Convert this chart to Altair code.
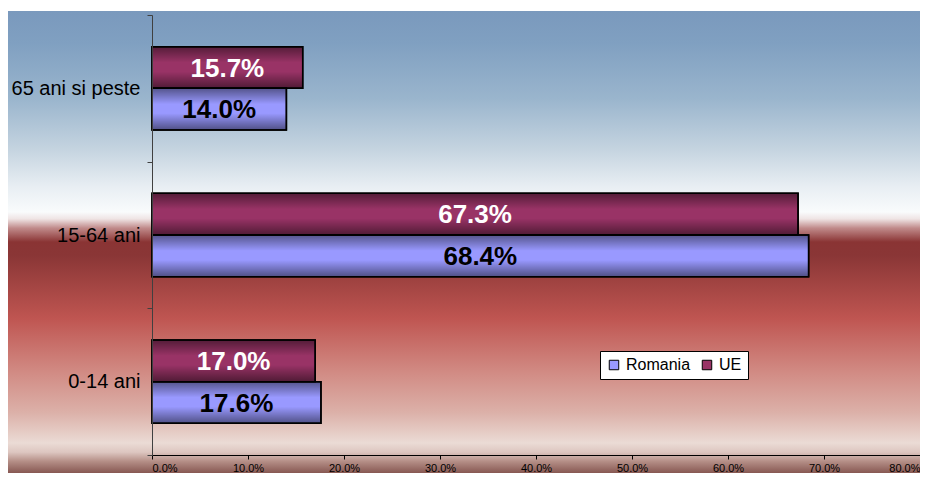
import altair as alt
import pandas as pd

categories = ["65 ani si peste", "15-64 ani", "0-14 ani"]
series = ["UE", "Romania"]
ue_values = [15.7, 67.3, 17.0]
ro_values = [14.0, 68.4, 17.6]
x_ticks = [0, 10, 20, 30, 40, 50, 60, 70, 80]

rows = []
for c, u, r in zip(categories, ue_values, ro_values):
    rows.append({"cat": c, "serie": "UE", "val": u})
    rows.append({"cat": c, "serie": "Romania", "val": r})
df = pd.DataFrame(rows)

FONT = "Liberation Sans"

bg_grad = alt.Gradient(
    gradient="linear", x1=0, y1=0, x2=0, y2=1,
    stops=[
        alt.GradientStop(offset=0.0, color="#7a99bd"),
        alt.GradientStop(offset=0.07, color="#80a0c1"),
        alt.GradientStop(offset=0.19, color="#9ab5cd"),
        alt.GradientStop(offset=0.30, color="#c5d4e0"),
        alt.GradientStop(offset=0.38, color="#e8eef3"),
        alt.GradientStop(offset=0.435, color="#f9fbfc"),
        alt.GradientStop(offset=0.45, color="#efe4e4"),
        alt.GradientStop(offset=0.47, color="#c08a8a"),
        alt.GradientStop(offset=0.50, color="#8a3434"),
        alt.GradientStop(offset=0.53, color="#8a3636"),
        alt.GradientStop(offset=0.665, color="#bf5551"),
        alt.GradientStop(offset=0.78, color="#d18a83"),
        alt.GradientStop(offset=0.87, color="#dcb1a9"),
        alt.GradientStop(offset=0.935, color="#ebdbd5"),
        alt.GradientStop(offset=0.955, color="#ddc6c0"),
        alt.GradientStop(offset=0.975, color="#b48e86"),
        alt.GradientStop(offset=1.0, color="#875852"),
    ],
)

background = alt.Chart(alt.Data(values=[{}])).mark_rect(fill=bg_grad, strokeWidth=0).encode(
    x=alt.value(-144), x2=alt.value(768), y=alt.value(-4), y2=alt.value(458)
)

y_enc = alt.Y(
    "cat:N", sort=categories, title=None,
    scale=alt.Scale(paddingInner=0, paddingOuter=0),
    axis=alt.Axis(
        tickBand="extent", labelFontSize=20, labelFont=FONT, labelColor="black",
        labelPadding=7, tickSize=5, tickColor="#404040", domainColor="#404040",
        labelLimit=200, zindex=2,
    ),
)
yoff_enc = alt.YOffset(
    "serie:N", sort=series, scale=alt.Scale(paddingInner=0, paddingOuter=0.76)
)
x_enc = alt.X(
    "val:Q", title=None,
    scale=alt.Scale(domain=[0, 80], nice=False, zero=True),
    axis=alt.Axis(
        values=x_ticks, labelExpr="format(datum.value, '.1f') + '%'",
        labelFontSize=11, labelFont=FONT, labelColor="black", tickSize=4,
        labelPadding=3, tickColor="black", domainColor="black", grid=False,
        zindex=2,
    ),
)

bars = alt.Chart(df).mark_bar(stroke="black", strokeWidth=1.5, opacity=1).encode(
    x=x_enc,
    y=y_enc,
    yOffset=yoff_enc,
    color=alt.Color(
        "serie:N",
        scale=alt.Scale(domain=["Romania", "UE"], range=["#9999ff", "#993366"]),
        legend=alt.Legend(
            title=None, orient="none", legendX=448, legendY=336, direction="horizontal",
            fillColor="white", strokeColor="black", padding=6,
            symbolType="square", symbolSize=90, symbolStrokeColor="black",
            symbolStrokeWidth=1, symbolOpacity=1,
            labelFontSize=16, labelFont=FONT, labelColor="black", columnPadding=8,
            labelOffset=4, zindex=3,
        ),
    ),
)

shade_grad = alt.Gradient(
    gradient="linear", x1=0, y1=0, x2=0, y2=1,
    stops=[
        alt.GradientStop(offset=0.0, color="rgba(0,0,0,0.45)"),
        alt.GradientStop(offset=0.38, color="rgba(0,0,0,0)"),
        alt.GradientStop(offset=0.6, color="rgba(0,0,0,0)"),
        alt.GradientStop(offset=1.0, color="rgba(0,0,0,0.48)"),
    ],
)

shade = alt.Chart(df).mark_bar(fill=shade_grad, stroke="black", strokeWidth=1.5).encode(
    x=alt.X("val:Q"), y=alt.Y("cat:N", sort=categories), yOffset=alt.YOffset("serie:N", sort=series)
)

labels = alt.Chart(df).transform_calculate(
    mid="datum.val / 2",
    lab="format(datum.val, '.1f') + '%'",
).mark_text(font=FONT, fontSize=26, fontWeight="bold", baseline="middle", align="center", dy=1).encode(
    x=alt.X("mid:Q"),
    y=alt.Y("cat:N", sort=categories),
    yOffset=alt.YOffset("serie:N", sort=series),
    text="lab:N",
    color=alt.Color(
        "serie:N", scale=alt.Scale(domain=["UE", "Romania"], range=["white", "black"]), legend=None
    ),
)

chart = alt.layer(background, bars, shade, labels).resolve_scale(color="independent").properties(
    width=768, height=440,
    autosize=alt.AutoSizeParams(type="none"),
    padding={"left": 144, "top": 7, "right": 0, "bottom": 18},
    background="white",
).configure_view(stroke=None)

chart.save("out.html", embed_options={"renderer": "svg", "actions": False})
